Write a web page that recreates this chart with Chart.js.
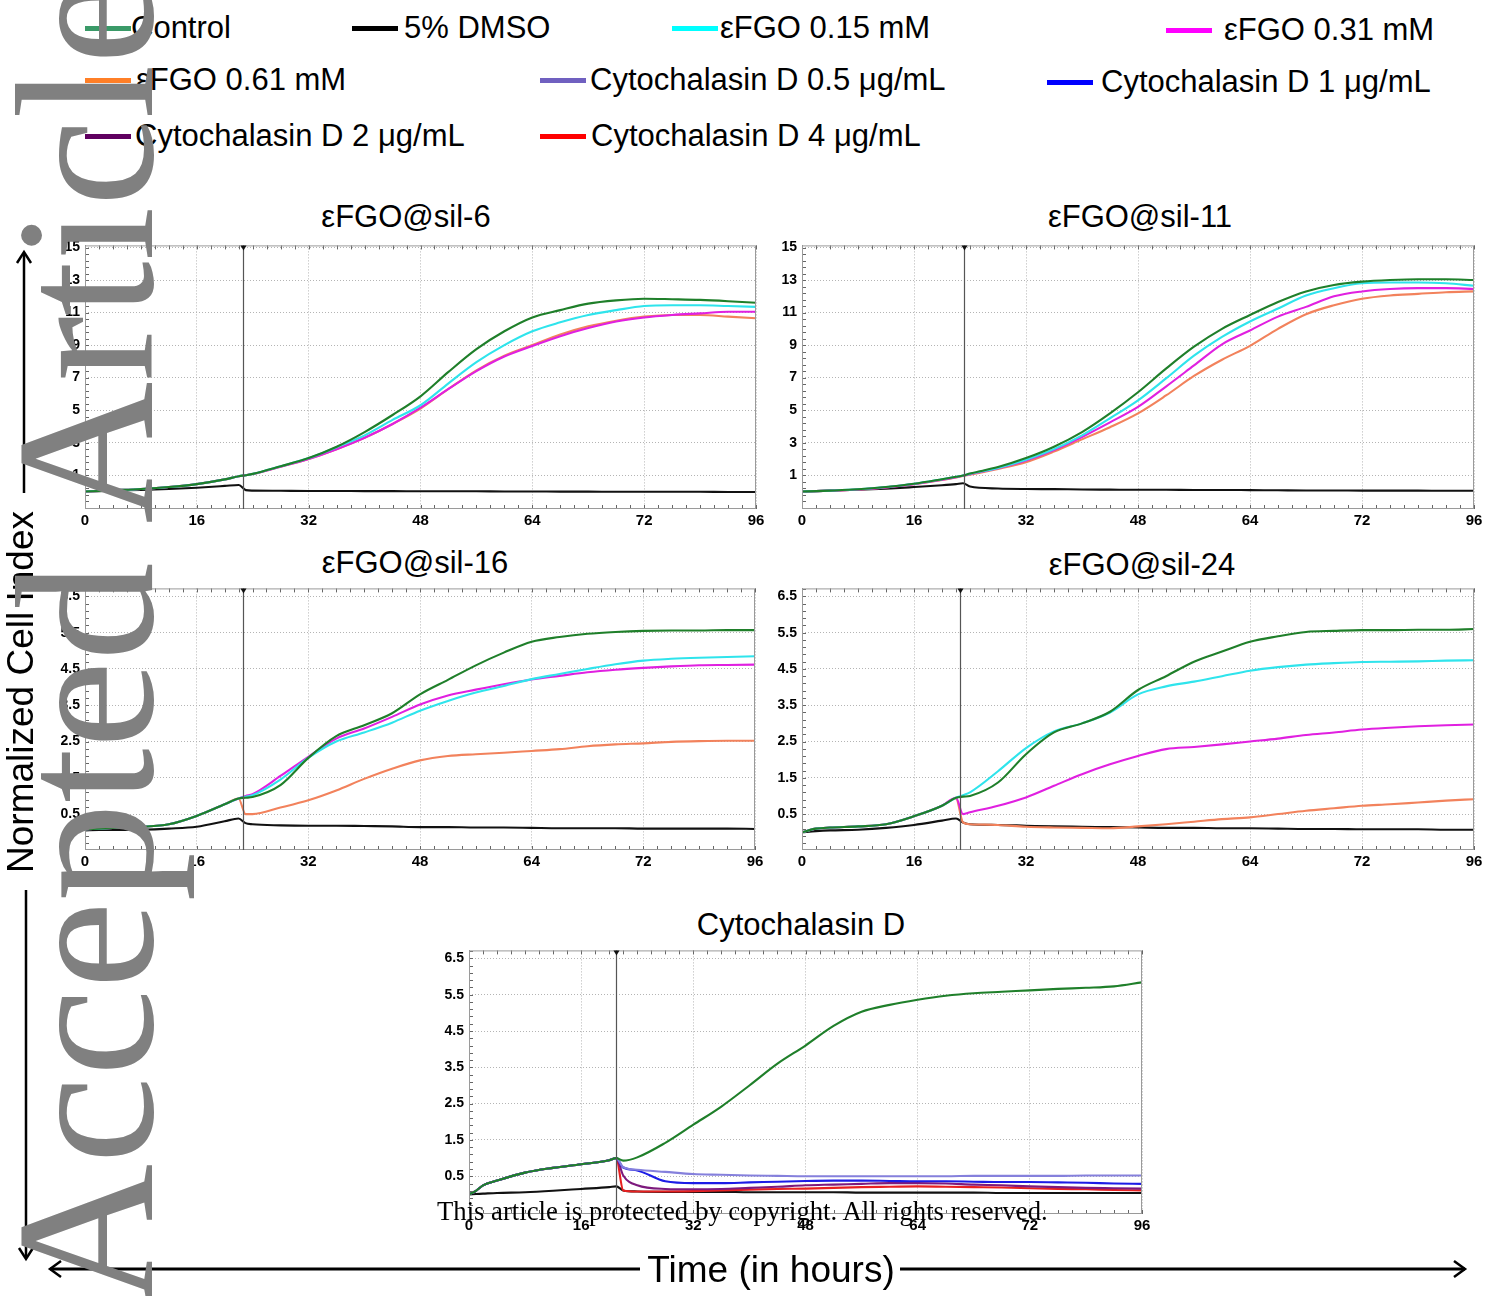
<!DOCTYPE html>
<html>
<head>
<meta charset="utf-8">
<script src="https://cdn.jsdelivr.net/npm/chart.js@4.4.1/dist/chart.umd.min.js"></script>
<style>
  html, body { margin: 0; padding: 0; background: #fff; }
  #fig { position: relative; width: 1486px; height: 1296px; overflow: hidden; font-family: "Liberation Sans", Arial, sans-serif; }
  #fig canvas { position: absolute; }
  .leg-swatch { position: absolute; width: 46px; height: 5px; }
  .leg-text { position: absolute; font-size: 31px; line-height: 36px; white-space: nowrap; color: #000; }
  .ptitle { position: absolute; font-size: 31px; white-space: nowrap; transform: translate(-50%, -50%); color: #000; }
  .axtitle { position: absolute; font-size: 37px; white-space: nowrap; color: #000; }
  #ytitle { left: 21px; top: 692px; transform: translate(-50%, -50%) rotate(-90deg); }
  #xtitle { left: 771px; top: 1270px; transform: translate(-50%, -50%); }
  #arrows { position: absolute; left: 0; top: 0; }
  #wm { position: absolute; left: -13px; top: 1306px; transform-origin: 0 0; transform: rotate(-90deg);
        font-family: "Liberation Serif", "Times New Roman", serif; font-size: 197px; line-height: 197px;
        color: #808080; white-space: nowrap; }
  #copy { position: absolute; left: 437px; top: 1198px; font-family: "Liberation Serif", "Times New Roman", serif;
          font-size: 26.7px; line-height: 26.7px; white-space: nowrap; color: #000; }
</style>
</head>
<body>
<div id="fig">
  <svg id="arrows" width="1486" height="1296">
    <g stroke="#000" stroke-width="2.5" fill="none">
      <line x1="24" y1="253" x2="24" y2="493"/>
      <polyline points="17,263 24,252 31,263"/>
      <line x1="26" y1="890" x2="26" y2="1258"/>
      <polyline points="19,1248 26,1259 33,1248"/>
      <line x1="50" y1="1269" x2="640" y2="1269" stroke-width="3"/>
      <polyline points="61,1261 50,1269 61,1277"/>
      <line x1="900" y1="1269" x2="1465" y2="1269" stroke-width="3"/>
      <polyline points="1454,1261 1465,1269 1454,1277"/>
    </g>
  </svg>
  <div id="ytitle" class="axtitle">Normalized Cell Index</div>
  <div id="xtitle" class="axtitle">Time (in hours)</div>
  <div id="wm">Accepted Article</div>
  <div id="copy">This article is protected by copyright. All rights reserved.</div>
</div>
<script>
// Sampling times (h). Panels 1-4 share one grid, the cytochalasin panel another.
const hoursA = [0, 2, 4, 8, 12, 16, 20, 22, 23, 24, 28, 32, 36, 40, 44, 48, 52, 56, 60, 64, 68, 72, 76, 80, 84, 88, 92, 96];
const hoursB = [0, 1, 2, 4, 8, 12, 16, 20, 21, 22, 24, 28, 32, 36, 40, 44, 48, 52, 56, 60, 64, 68, 72, 76, 80, 84, 88, 92, 96];

const xTickLabels = ["0", "16", "32", "48", "64", "72", "96"];
const yTicksWide = [1, 3, 5, 7, 9, 11, 13, 15];
const yTicksNarrow = [0.5, 1.5, 2.5, 3.5, 4.5, 5.5, 6.5];

const seriesNames = {
  control: "Control",
  dmso: "5% DMSO",
  low: "εFGO 0.15 mM",
  mid: "εFGO 0.31 mM",
  high: "εFGO 0.61 mM",
  c05: "Cytochalasin D 0.5 μg/mL",
  c1: "Cytochalasin D 1 μg/mL",
  c2: "Cytochalasin D 2 μg/mL",
  c4: "Cytochalasin D 4 μg/mL"
};

// εFGO@sil-6
const sil6Control = [0, 0.03, 0.07, 0.15, 0.27, 0.45, 0.74, 0.93, 1.0, 1.08, 1.55, 2.05, 2.75, 3.65, 4.7, 5.85, 7.35, 8.75, 9.85, 10.7, 11.15, 11.55, 11.75, 11.85, 11.82, 11.78, 11.7, 11.6];
const sil6Dmso    = [0, 0.02, 0.05, 0.09, 0.15, 0.23, 0.34, 0.4, 0.08, 0.05, 0.04, 0.03, 0.03, 0.02, 0.02, 0.01, 0.01, 0.01, 0, 0, -0.01, -0.01, -0.02, -0.02, -0.02, -0.02, -0.03, -0.03];
const sil6Low     = [0, 0.03, 0.07, 0.15, 0.27, 0.45, 0.74, 0.93, 1.0, 1.08, 1.55, 2.05, 2.72, 3.45, 4.4, 5.3, 6.65, 7.95, 9.0, 9.85, 10.4, 10.85, 11.15, 11.4, 11.45, 11.45, 11.4, 11.35];
const sil6Mid     = [0, 0.03, 0.07, 0.15, 0.27, 0.45, 0.74, 0.93, 1.0, 1.07, 1.52, 2.0, 2.6, 3.3, 4.15, 5.15, 6.3, 7.4, 8.3, 8.95, 9.55, 10.05, 10.45, 10.7, 10.85, 10.95, 11.05, 11.05];
const sil6High    = [0, 0.03, 0.07, 0.15, 0.27, 0.45, 0.74, 0.93, 1.0, 1.07, 1.52, 2.0, 2.6, 3.3, 4.15, 5.1, 6.3, 7.45, 8.35, 9.0, 9.65, 10.15, 10.5, 10.75, 10.85, 10.85, 10.75, 10.65];

// εFGO@sil-11
const sil11Control = [0, 0.02, 0.05, 0.13, 0.27, 0.47, 0.75, 0.9, 0.98, 1.1, 1.5, 2.05, 2.75, 3.65, 4.8, 6.1, 7.55, 8.9, 10.0, 10.85, 11.65, 12.3, 12.7, 12.9, 13.0, 13.05, 13.05, 13.0];
const sil11Dmso    = [0, 0.02, 0.05, 0.1, 0.17, 0.27, 0.38, 0.45, 0.5, 0.3, 0.18, 0.15, 0.14, 0.12, 0.11, 0.1, 0.1, 0.09, 0.09, 0.08, 0.07, 0.06, 0.06, 0.05, 0.05, 0.05, 0.04, 0.04];
const sil11Low     = [0, 0.02, 0.05, 0.13, 0.27, 0.47, 0.75, 0.9, 0.98, 1.08, 1.45, 1.95, 2.6, 3.45, 4.5, 5.6, 6.95, 8.35, 9.5, 10.45, 11.25, 12.05, 12.5, 12.8, 12.85, 12.85, 12.8, 12.65];
const sil11Mid     = [0, 0.02, 0.05, 0.12, 0.25, 0.45, 0.72, 0.88, 0.97, 1.06, 1.42, 1.9, 2.55, 3.35, 4.25, 5.2, 6.45, 7.75, 9.05, 9.9, 10.75, 11.35, 12.0, 12.3, 12.45, 12.5, 12.5, 12.45];
const sil11High    = [0, 0.02, 0.05, 0.12, 0.25, 0.44, 0.7, 0.86, 0.95, 1.03, 1.38, 1.8, 2.45, 3.2, 3.95, 4.8, 5.9, 7.1, 8.1, 8.95, 10.0, 10.9, 11.45, 11.85, 12.05, 12.15, 12.25, 12.3];

// εFGO@sil-16
const sil16Control = [0.08, 0.1, 0.12, 0.15, 0.22, 0.45, 0.77, 0.93, 0.95, 0.97, 1.3, 2.05, 2.65, 2.95, 3.28, 3.8, 4.2, 4.6, 4.95, 5.25, 5.38, 5.47, 5.52, 5.55, 5.56, 5.56, 5.57, 5.57];
const sil16Dmso    = [0.05, 0.06, 0.06, 0.07, 0.1, 0.15, 0.3, 0.38, 0.25, 0.22, 0.19, 0.18, 0.18, 0.17, 0.16, 0.14, 0.14, 0.13, 0.13, 0.12, 0.11, 0.11, 0.11, 0.1, 0.1, 0.1, 0.1, 0.09];
const sil16Low     = [0.08, 0.1, 0.12, 0.15, 0.22, 0.45, 0.77, 0.93, 0.98, 1.02, 1.45, 2.05, 2.5, 2.75, 3.02, 3.35, 3.62, 3.85, 4.03, 4.22, 4.36, 4.5, 4.63, 4.73, 4.78, 4.81, 4.83, 4.85];
const sil16Mid     = [0.08, 0.1, 0.12, 0.15, 0.22, 0.45, 0.77, 0.93, 1.0, 1.05, 1.55, 2.08, 2.58, 2.86, 3.18, 3.52, 3.77, 3.93, 4.08, 4.21, 4.31, 4.41, 4.48, 4.53, 4.57, 4.6, 4.61, 4.62];
const sil16High    = [0.08, 0.1, 0.12, 0.15, 0.22, 0.45, 0.77, 0.93, 0.5, 0.5, 0.68, 0.88, 1.15, 1.47, 1.75, 1.98, 2.1, 2.15, 2.19, 2.24, 2.29, 2.37, 2.42, 2.45, 2.49, 2.51, 2.52, 2.52];

// εFGO@sil-24
const sil24Control = [0, 0.1, 0.13, 0.16, 0.22, 0.44, 0.73, 0.95, 0.98, 1.0, 1.37, 2.15, 2.75, 3.0, 3.32, 3.92, 4.3, 4.7, 4.98, 5.25, 5.4, 5.52, 5.55, 5.57, 5.57, 5.58, 5.58, 5.6];
const sil24Dmso    = [0, 0.03, 0.05, 0.07, 0.12, 0.2, 0.32, 0.38, 0.27, 0.22, 0.2, 0.18, 0.16, 0.15, 0.14, 0.13, 0.12, 0.12, 0.11, 0.11, 0.1, 0.09, 0.09, 0.08, 0.08, 0.08, 0.07, 0.07];
const sil24Low     = [0, 0.1, 0.13, 0.16, 0.22, 0.44, 0.73, 0.95, 1.02, 1.1, 1.68, 2.32, 2.78, 3.0, 3.3, 3.8, 4.02, 4.15, 4.3, 4.45, 4.55, 4.62, 4.66, 4.69, 4.7, 4.71, 4.73, 4.74];
const sil24Mid     = [0, 0.1, 0.13, 0.16, 0.22, 0.44, 0.73, 0.95, 0.5, 0.55, 0.73, 0.96, 1.28, 1.6, 1.87, 2.1, 2.29, 2.35, 2.42, 2.5, 2.58, 2.68, 2.75, 2.83, 2.88, 2.92, 2.95, 2.97];
const sil24High    = [0, 0.1, 0.13, 0.16, 0.22, 0.44, 0.73, 0.93, 0.27, 0.22, 0.2, 0.15, 0.13, 0.12, 0.11, 0.16, 0.22, 0.29, 0.36, 0.41, 0.5, 0.59, 0.66, 0.73, 0.77, 0.82, 0.87, 0.91];

// Cytochalasin D
const cytoControl = [0, 0.1, 0.25, 0.38, 0.6, 0.73, 0.83, 0.94, 1.0, 0.93, 1.02, 1.42, 1.92, 2.42, 3.0, 3.6, 4.1, 4.64, 5.03, 5.22, 5.36, 5.47, 5.54, 5.58, 5.62, 5.66, 5.69, 5.73, 5.84];
const cytoDmso    = [0, 0.01, 0.02, 0.04, 0.06, 0.1, 0.15, 0.2, 0.22, 0.11, 0.08, 0.07, 0.07, 0.07, 0.06, 0.06, 0.06, 0.06, 0.05, 0.05, 0.05, 0.05, 0.05, 0.04, 0.04, 0.04, 0.04, 0.04, 0.04];
const cyto05      = [0, 0.1, 0.25, 0.38, 0.6, 0.73, 0.83, 0.94, 1.0, 0.75, 0.68, 0.62, 0.56, 0.54, 0.52, 0.51, 0.5, 0.5, 0.5, 0.5, 0.5, 0.5, 0.51, 0.51, 0.51, 0.51, 0.52, 0.52, 0.52];
const cyto1       = [0, 0.1, 0.25, 0.38, 0.6, 0.73, 0.83, 0.94, 1.0, 0.74, 0.66, 0.36, 0.31, 0.31, 0.33, 0.35, 0.37, 0.38, 0.38, 0.37, 0.36, 0.36, 0.35, 0.34, 0.34, 0.33, 0.32, 0.3, 0.29];
const cyto2       = [0, 0.1, 0.25, 0.38, 0.6, 0.73, 0.83, 0.94, 1.0, 0.52, 0.25, 0.15, 0.14, 0.15, 0.18, 0.21, 0.25, 0.27, 0.29, 0.31, 0.31, 0.3, 0.27, 0.25, 0.22, 0.2, 0.18, 0.17, 0.16];
const cyto4       = [0, 0.1, 0.25, 0.38, 0.6, 0.73, 0.83, 0.94, 1.0, 0.11, 0.08, 0.08, 0.09, 0.11, 0.13, 0.15, 0.16, 0.18, 0.2, 0.21, 0.22, 0.21, 0.2, 0.19, 0.17, 0.15, 0.14, 0.12, 0.11];

// Compound addition time (h) per panel
const addTimes = [22.6, 23.2, 22.6, 22.5, 21.0];

/* ── Styling ─────────────────────────────────────────────── */
const lineColors = {
  control: "#1f7f2a", dmso: "#111111", low: "#2fe4ec", mid: "#e020e0", high: "#f2825c",
  c05: "#8580dc", c1: "#1c1ce6", c2: "#7d1a7d", c4: "#e82020"
};
const swatchColors = {
  control: "#3a9a68", dmso: "#000000", low: "#00ffff", mid: "#ff00ff", high: "#ff7f27",
  c05: "#7060c0", c1: "#0000ff", c2: "#600060", c4: "#ff0000"
};

// legend slots: swatch x, text x, row centre y
const legendOrder = ["control", "dmso", "low", "mid", "high", "c05", "c1", "c2", "c4"];
const legendSlots = [
  [85, 131, 28], [352, 404, 28], [672, 720, 28], [1166, 1224, 30],
  [85, 136, 80], [540, 590, 80], [1047, 1101, 82],
  [85, 135, 136], [540, 591, 136]
];

const panels = [
  { title: "εFGO@sil-6",  tx: 406,  ty: 217, box: [85, 245, 671, 265],  hours: hoursA, yMin: -1.08, yMax: 15.13, yTicks: yTicksWide,   yMinor: 0.4,
    series: [["control", sil6Control], ["low", sil6Low], ["mid", sil6Mid], ["high", sil6High], ["dmso", sil6Dmso]] },
  { title: "εFGO@sil-11", tx: 1140, ty: 217, box: [802, 245, 672, 265], hours: hoursA, yMin: -1.08, yMax: 15.13, yTicks: yTicksWide,   yMinor: 0.4,
    series: [["control", sil11Control], ["low", sil11Low], ["mid", sil11Mid], ["high", sil11High], ["dmso", sil11Dmso]] },
  { title: "εFGO@sil-16", tx: 415,  ty: 563, box: [85, 588, 670, 263],  hours: hoursA, yMin: -0.49, yMax: 6.72,  yTicks: yTicksNarrow, yMinor: 0.2,
    series: [["control", sil16Control], ["low", sil16Low], ["mid", sil16Mid], ["high", sil16High], ["dmso", sil16Dmso]] },
  { title: "εFGO@sil-24", tx: 1142, ty: 565, box: [802, 588, 672, 263], hours: hoursA, yMin: -0.49, yMax: 6.72,  yTicks: yTicksNarrow, yMinor: 0.2,
    series: [["control", sil24Control], ["low", sil24Low], ["mid", sil24Mid], ["high", sil24High], ["dmso", sil24Dmso]] },
  { title: "Cytochalasin D", tx: 801, ty: 925, box: [469, 950, 673, 265], hours: hoursB, yMin: -0.54, yMax: 6.72, yTicks: yTicksNarrow, yMinor: 0.2,
    series: [["control", cytoControl], ["c05", cyto05], ["c1", cyto1], ["c2", cyto2], ["c4", cyto4], ["dmso", cytoDmso]] }
];

const Y_AXIS_W = 45, X_AXIS_H = 26, PAD_TOP = 12, PAD_RIGHT = 16;

/* frame, minor ticks and the compound-addition marker */
const rtcaDecor = {
  id: "rtcaDecor",
  afterDatasetsDraw(chart, args, opts) {
    const { ctx, chartArea: a, scales: { x, y } } = chart;
    ctx.save();
    ctx.strokeStyle = "#666";
    ctx.lineWidth = 1;
    ctx.beginPath();
    for (let h = 0; h <= 96; h += 2) {
      const px = Math.round(x.getPixelForValue(h)) + 0.5;
      ctx.moveTo(px, a.bottom); ctx.lineTo(px, a.bottom - 4);
      ctx.moveTo(px, a.top);    ctx.lineTo(px, a.top + 4);
    }
    const base = opts.yBase, step = opts.yMinor;
    const kMin = Math.ceil((y.min - base) / step), kMax = Math.floor((y.max - base) / step);
    for (let k = kMin; k <= kMax; k++) {
      const py = Math.round(y.getPixelForValue(base + k * step)) + 0.5;
      ctx.moveTo(a.left, py); ctx.lineTo(a.left + 4, py);
    }
    ctx.stroke();

    ctx.strokeStyle = "#9a9a9a";
    ctx.strokeRect(a.left + 0.5, a.top + 0.5, a.width - 1, a.height - 1);

    const tx = Math.round(x.getPixelForValue(opts.addTime)) + 0.5;
    ctx.strokeStyle = "#555";
    ctx.lineWidth = 1.2;
    ctx.beginPath();
    ctx.moveTo(tx, a.top); ctx.lineTo(tx, a.bottom);
    ctx.stroke();
    ctx.fillStyle = "#111";
    ctx.beginPath();
    ctx.moveTo(tx - 3, a.top); ctx.lineTo(tx + 3, a.top); ctx.lineTo(tx, a.top + 5);
    ctx.closePath();
    ctx.fill();
    ctx.restore();
  }
};

const fig = document.getElementById("fig");
const firstOverlay = document.getElementById("arrows");

legendOrder.forEach((key, i) => {
  const [sx, tx, cy] = legendSlots[i];
  const sw = document.createElement("div");
  sw.className = "leg-swatch";
  sw.style.left = sx + "px";
  sw.style.top = (cy - 2) + "px";
  sw.style.background = swatchColors[key];
  const tt = document.createElement("div");
  tt.className = "leg-text";
  tt.style.left = tx + "px";
  tt.style.top = (cy - 18) + "px";
  tt.textContent = seriesNames[key];
  fig.insertBefore(sw, firstOverlay);
  fig.insertBefore(tt, firstOverlay);
});

const tickFont = { family: '"Liberation Sans", Arial, sans-serif', weight: "bold" };

panels.forEach((p, idx) => {
  const [left, top, w, h] = p.box;

  const title = document.createElement("div");
  title.className = "ptitle";
  title.style.left = p.tx + "px";
  title.style.top = p.ty + "px";
  title.textContent = p.title;
  fig.insertBefore(title, firstOverlay);

  const canvas = document.createElement("canvas");
  canvas.width = w + Y_AXIS_W + PAD_RIGHT;
  canvas.height = h + PAD_TOP + X_AXIS_H;
  canvas.style.left = (left - Y_AXIS_W) + "px";
  canvas.style.top = (top - PAD_TOP) + "px";
  fig.insertBefore(canvas, firstOverlay);

  const chart = new Chart(canvas, {
    type: "line",
    data: {
      datasets: p.series.map(([key, vals]) => ({
        label: seriesNames[key],
        data: p.hours.map((t, i) => ({ x: t, y: vals[i] })),
        borderColor: lineColors[key],
        borderWidth: 2.1,
        pointRadius: 0,
        cubicInterpolationMode: "monotone",
        fill: false
      }))
    },
    options: {
      responsive: false,
      animation: false,
      devicePixelRatio: 1,
      layout: { padding: { top: PAD_TOP, right: PAD_RIGHT, left: 0, bottom: 0 } },
      plugins: {
        legend: { display: false },
        tooltip: { enabled: false },
        rtcaDecor: { addTime: addTimes[idx], yMinor: p.yMinor, yBase: p.yTicks[0] }
      },
      scales: {
        x: {
          type: "linear", min: 0, max: 96,
          afterFit: s => { s.height = X_AXIS_H; },
          ticks: {
            stepSize: 16, maxRotation: 0, autoSkip: false, padding: 3, color: "#000",
            font: { ...tickFont, size: 15 },
            callback: (v, i) => xTickLabels[i]
          },
          grid: { color: "#b4b4b4", lineWidth: 1, drawTicks: false },
          border: { display: false, dash: [1, 2] }
        },
        y: {
          type: "linear", min: p.yMin, max: p.yMax,
          afterFit: s => { s.width = Y_AXIS_W; },
          afterBuildTicks: s => { s.ticks = p.yTicks.map(v => ({ value: v })); },
          ticks: {
            padding: 5, color: "#000", autoSkip: false,
            font: { ...tickFont, size: 14 },
            callback: v => String(v)
          },
          grid: { color: "#b4b4b4", lineWidth: 1, drawTicks: false },
          border: { display: false, dash: [1, 2] }
        }
      }
    },
    plugins: [rtcaDecor]
  });

  // line the plot area up with its slot in the figure
  const a = chart.chartArea;
  canvas.style.left = (left - a.left) + "px";
  canvas.style.top = (top - a.top) + "px";
});
</script>
</body>
</html>
